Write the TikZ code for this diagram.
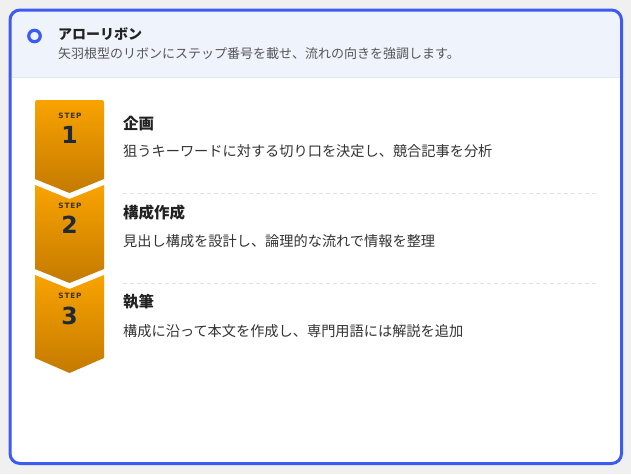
\documentclass[tikz,border=0pt]{standalone}
\usepackage{fontspec}
\setmainfont{Noto Sans CJK JP}
\newfontfamily\steplbl[LetterSpace=12]{DejaVu Sans}
\newfontfamily\numfont{DejaVu Sans}
\definecolor{bgc}{HTML}{F0F0F0}
\definecolor{cardblue}{HTML}{3D5AF1}
\definecolor{headc}{HTML}{EFF4FC}
\definecolor{hline}{HTML}{E3E8F0}
\definecolor{titlec}{HTML}{222222}
\definecolor{subc}{HTML}{555555}
\definecolor{descc}{HTML}{333333}
\definecolor{sepc}{HTML}{E2E2E2}
\definecolor{ribtop}{HTML}{F9A300}
\definecolor{ribbot}{HTML}{C47A00}
\definecolor{steptc}{HTML}{3A3222}
\definecolor{numc}{HTML}{1F2A37}
\begin{document}
\begin{tikzpicture}[x=1pt,y=-1pt,
 htitle/.style={anchor=west,inner sep=0,text=titlec,font=\fontsize{14}{17}\selectfont\bfseries},
 hsub/.style={anchor=west,inner sep=0,text=subc,font=\fontsize{13}{15}\selectfont},
 ttl/.style={anchor=west,inner sep=0,text=titlec,font=\fontsize{15.5}{18}\selectfont\bfseries},
 desc/.style={anchor=west,inner sep=0,text=descc,font=\fontsize{14.2}{17}\selectfont},
 steplab/.style={inner sep=0,text=steptc,font=\steplbl\fontsize{7.3}{9}\selectfont\bfseries},
 stepnum/.style={inner sep=0,text=numc,font=\numfont\fontsize{23.5}{26}\selectfont\bfseries},
 ribbon/.style={top color=ribtop,bottom color=ribbot,draw=none},
 sepline/.style={draw=sepc,line width=1pt,dash pattern=on 4pt off 3pt}]
\useasboundingbox (0,0) rectangle (631,474);
\fill[bgc] (0,0) rectangle (631,474);
% card
\path[fill=white,rounded corners=10pt] (10,10) rectangle (621.5,463.5);
\begin{scope}
\clip[rounded corners=10pt] (10,10) rectangle (621.5,463.5);
\fill[headc] (10,10) rectangle (621.5,77);
\end{scope}
\draw[hline,line width=1pt] (11.5,77) -- (620,77);
\draw[cardblue,line width=3pt,rounded corners=10pt] (10,10) rectangle (621.5,463.5);
% header
\node[circle,draw=cardblue,line width=3.2pt,minimum size=11.5pt,inner sep=0] (icon) at (34.5,36) {};
\node[htitle] (htl) at (58,34) {アローリボン};
\node[hsub] (hsb) at (58,54) {矢羽根型のリボンにステップ番号を載せ、流れの向きを強調します。};
% ribbons
\path[ribbon] (35,179) -- (35,105) .. controls (35,100) .. (40,100) -- (99,100) .. controls (104,100) .. (104,105) -- (104,179) -- (69.5,193) -- cycle;
\path[ribbon] (35,185) -- (69.5,199) -- (104,185) -- (104,269) -- (69.5,283) -- (35,269) -- cycle;
\path[ribbon] (35,275) -- (69.5,289) -- (104,275) -- (104,358) -- (69.5,373) -- (35,358) -- cycle;
\node[steplab] (s1) at (70,115.5) {STEP};
\node[stepnum] (n1) at (69.5,134.5) {1};
\node[steplab] (s2) at (70,206) {STEP};
\node[stepnum] (n2) at (69.5,225) {2};
\node[steplab] (s3) at (70,296) {STEP};
\node[stepnum] (n3) at (69.5,316) {3};
% texts
\node[ttl] (t1) at (123,123.5) {企画};
\node[desc] (d1) at (123,151.5) {狙うキーワードに対する切り口を決定し、競合記事を分析};
\draw[sepline] (123,193.5) -- (596,193.5);
\node[ttl] (t2) at (123,213) {構成作成};
\node[desc] (d2) at (123,241.5) {見出し構成を設計し、論理的な流れで情報を整理};
\draw[sepline] (123,283.5) -- (596,283.5);
\node[ttl] (t3) at (123,301.5) {執筆};
\node[desc] (d3) at (123,331) {構成に沿って本文を作成し、専門用語には解説を追加};
\end{tikzpicture}
\end{document}
